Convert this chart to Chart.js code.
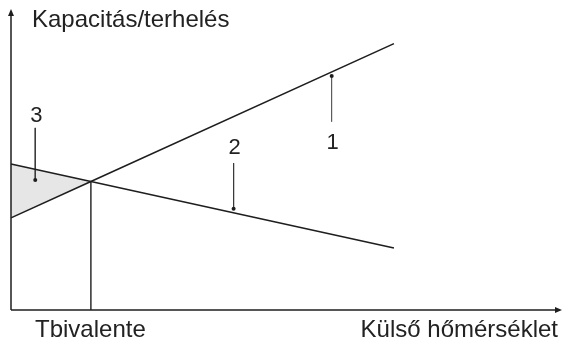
<!DOCTYPE html>
<html>
<head>
<meta charset="utf-8">
<script src="https://cdn.jsdelivr.net/npm/chart.js@4/dist/chart.umd.min.js"></script>
<style>
  html, body { margin: 0; padding: 0; background: #fff; }
  #wrap { width: 566px; height: 344px; position: relative; }
</style>
</head>
<body>
<div id="wrap"><canvas id="chart"></canvas></div>
<script>
// ---------- DATA (arbitrary units, axis 0..100) ----------
const tempPoints = [0, 14.5, 69.5];          // outdoor temperature: start, bivalent point, end
const capacity = [30.6, 42.7, 88.5];          // line 1 - heat pump capacity
const load = [48.5, 42.7, 20.6];              // line 2 - building load
const bivalentTemp = 14.5;

// numbered call-outs: label, x, top of leader, dot position, label y
const calloutLabels = ["1", "2", "3"];
const calloutX = [58.2, 40.4, 4.4];
const calloutTop = [62.5, 48.8, 60.5];
const calloutDot = [77.7, 33.6, 43.2];
const calloutTextY = [53.6, 51.9, 62.3];

const yTitle = "Kapacitás/terhelés";
const xTitle = "Külső hőmérséklet";
const bivalentLabel = "Tbivalente";

const lineColor = "#1e1e1e";
const fontFamily = "'Liberation Sans', Arial, sans-serif";

// build point lists
function pts(xs, ys) {
  return xs.map((x, i) => ({ x: x, y: ys[i] }));
}

const datasets = [
  // shaded area between the two lines, left of the bivalent point
  {
    data: pts(tempPoints.slice(0, 2), capacity.slice(0, 2)),
    borderWidth: 0,
    pointRadius: 0,
    fill: false,
  },
  {
    data: pts(tempPoints.slice(0, 2), load.slice(0, 2)),
    borderWidth: 0,
    pointRadius: 0,
    fill: "-1",
    backgroundColor: "#e6e6e6",
  },
  // line 1
  {
    data: pts(tempPoints, capacity),
    borderColor: lineColor,
    borderWidth: 1.6,
    pointRadius: 0,
  },
  // line 2
  {
    data: pts(tempPoints, load),
    borderColor: lineColor,
    borderWidth: 1.6,
    pointRadius: 0,
  },
  // vertical line at bivalent temperature
  {
    data: [{ x: bivalentTemp, y: 0 }, { x: bivalentTemp, y: capacity[1] }],
    borderColor: lineColor,
    borderWidth: 1.4,
    pointRadius: 0,
  },
];

// leader lines for call-outs
for (let i = 0; i < calloutLabels.length; i++) {
  datasets.push({
    data: [{ x: calloutX[i], y: calloutTop[i] }, { x: calloutX[i], y: calloutDot[i] }],
    borderColor: "#3a3a3a",
    borderWidth: 1,
    pointRadius: [0, 2],
    pointBackgroundColor: "#1e1e1e",
    pointBorderWidth: 0,
  });
}

// -------- plugin: axes with arrows + texts --------
const annotations = {
  id: "annotations",
  afterDatasetsDraw(chart) {
    const ctx = chart.ctx;
    const xs = chart.scales.x;
    const ys = chart.scales.y;
    const x0 = xs.getPixelForValue(0);
    const y0 = ys.getPixelForValue(0);
    const xEnd = xs.getPixelForValue(100);
    const yEnd = ys.getPixelForValue(100);

    ctx.save();
    ctx.strokeStyle = lineColor;
    ctx.fillStyle = lineColor;
    ctx.lineWidth = 1.5;
    // y axis
    ctx.beginPath();
    ctx.moveTo(x0, y0);
    ctx.lineTo(x0, yEnd + 5);
    ctx.stroke();
    ctx.beginPath();
    ctx.moveTo(x0, yEnd);
    ctx.lineTo(x0 - 3, yEnd + 7);
    ctx.lineTo(x0 + 3, yEnd + 7);
    ctx.closePath();
    ctx.fill();
    // x axis
    ctx.beginPath();
    ctx.moveTo(x0, y0);
    ctx.lineTo(xEnd - 5, y0);
    ctx.stroke();
    ctx.beginPath();
    ctx.moveTo(xEnd, y0);
    ctx.lineTo(xEnd - 7, y0 - 3);
    ctx.lineTo(xEnd - 7, y0 + 3);
    ctx.closePath();
    ctx.fill();

    // texts
    ctx.fillStyle = "#222";
    ctx.textBaseline = "alphabetic";
    ctx.font = "24px " + fontFamily;
    ctx.textAlign = "left";
    ctx.fillText(yTitle, x0 + 21, 27);
    ctx.textAlign = "center";
    ctx.fillText(bivalentLabel, xs.getPixelForValue(bivalentTemp) - 0.5, y0 + 27);
    ctx.textAlign = "right";
    ctx.fillText(xTitle, xEnd - 4, y0 + 27);

    ctx.font = "22px " + fontFamily;
    ctx.textAlign = "center";
    for (let i = 0; i < calloutLabels.length; i++) {
      ctx.fillText(calloutLabels[i], xs.getPixelForValue(calloutX[i]) + 1, ys.getPixelForValue(calloutTextY[i]));
    }
    ctx.restore();
  },
};

new Chart(document.getElementById("chart"), {
  type: "scatter",
  data: { datasets: datasets },
  options: {
    responsive: true,
    maintainAspectRatio: false,
    animation: false,
    showLine: true,
    clip: false,
    layout: { padding: { left: 11, right: 3, top: 9, bottom: 34 } },
    scales: {
      x: { type: "linear", min: 0, max: 100, display: false },
      y: { type: "linear", min: 0, max: 100, display: false },
    },
    plugins: {
      legend: { display: false },
      tooltip: { enabled: false },
      filler: { drawTime: "beforeDatasetsDraw" },
    },
    elements: { line: { tension: 0 } },
  },
  plugins: [annotations],
});
</script>
</body>
</html>
